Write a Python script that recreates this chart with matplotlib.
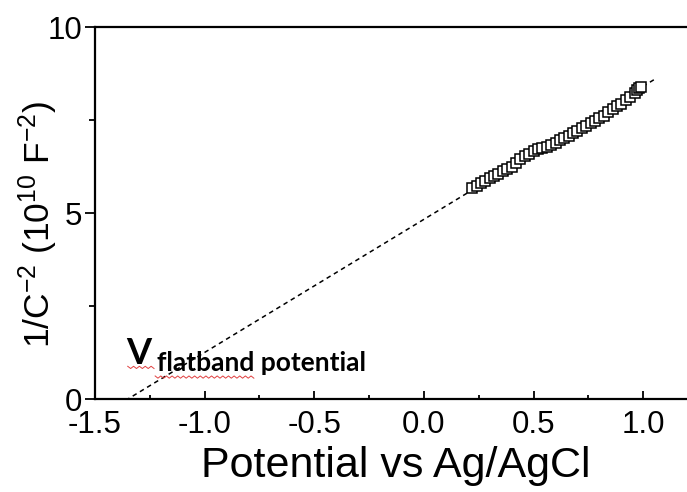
import numpy as np
import matplotlib
matplotlib.use('Agg')
import matplotlib.pyplot as plt

# Mott-Schottky data
potential = [0.22, 0.24, 0.26, 0.28, 0.30, 0.32, 0.34, 0.36, 0.38, 0.40,
             0.42, 0.44, 0.46, 0.48, 0.50, 0.52, 0.54, 0.56, 0.58, 0.60,
             0.62, 0.64, 0.66, 0.68, 0.70, 0.72, 0.74, 0.76, 0.78, 0.80,
             0.82, 0.84, 0.86, 0.88, 0.90, 0.92, 0.94, 0.96, 0.97, 0.98, 0.99]
inv_c2 = [5.68, 5.72, 5.80, 5.86, 5.95, 6.00, 6.06, 6.13, 6.18, 6.24,
          6.35, 6.46, 6.52, 6.60, 6.66, 6.72, 6.76, 6.78, 6.83, 6.88,
          6.97, 7.03, 7.08, 7.15, 7.20, 7.28, 7.35, 7.42, 7.48, 7.55,
          7.62, 7.72, 7.80, 7.87, 7.94, 8.04, 8.12, 8.24, 8.30, 8.36, 8.40]

# linear fit extrapolated to the flatband potential
fit_slope = 3.58
fit_intercept = 4.83
fit_range = [-1.36, 1.06]

plt.rcParams['font.family'] = ['Liberation Sans', 'DejaVu Sans']
plt.rcParams['mathtext.fontset'] = 'custom'
plt.rcParams['mathtext.rm'] = 'Liberation Sans'
plt.rcParams['mathtext.it'] = 'Liberation Sans'

fig = plt.figure(figsize=(6.87, 4.92), dpi=100)
ax = fig.add_axes([0.138, 0.189, 0.875, 0.756])

fx = np.array(fit_range)
ax.plot(fx, fit_slope * fx + fit_intercept, ls=(0, (3, 2.5)), color='black', lw=1.1)
ax.plot(potential, inv_c2, ls='none', marker='s', ms=7, mfc='white',
        mec='black', mew=1.1)

ax.set_xlim(-1.5, 1.24)
ax.set_ylim(0, 10)
ax.set_xticks([-1.5, -1.0, -0.5, 0.0, 0.5, 1.0])
ax.set_xticklabels(['-1.5', '-1.0', '-0.5', '0.0', '0.5', '1.0'])
ax.set_xticks([-1.25, -0.75, -0.25, 0.25, 0.75], minor=True)
ax.set_yticks([0, 5, 10])
ax.set_yticks([2.5, 7.5], minor=True)

for s in ax.spines.values():
    s.set_linewidth(1.6)
ax.spines['right'].set_visible(False)

ax.tick_params(axis='x', which='major', direction='in', length=6, width=1.3,
               labelsize=22.5, pad=8)
ax.tick_params(axis='x', which='minor', direction='in', length=3, width=1.3)
ax.tick_params(axis='y', which='major', direction='out', length=7, width=1.3,
               labelsize=22.5, pad=2)
ax.tick_params(axis='y', which='minor', direction='out', length=4, width=1.3)

ax.set_xlabel('Potential vs Ag/AgCl', fontsize=31, labelpad=4)
ax.set_ylabel(r'1/C$^{-2}$ (10$^{10}$ F$^{-2}$)', fontsize=25.5)
ax.yaxis.set_label_coords(-0.058, 0.47)

ax.text(-1.355, 0.95, 'V', fontsize=26, fontweight='bold', family='Lato',
        va='baseline', ha='left')
ax.text(-1.215, 0.74, 'flatband potential', fontsize=19, fontweight='bold',
        family='Lato', va='baseline', ha='left')

# red spell-check underlines as in the source screenshot
for x0, x1, yb, n in [(-1.35, -1.23, 0.88, 10), (-1.225, -0.775, 0.62, 36)]:
    wx = np.linspace(x0, x1, n)
    wy = yb - 0.06 * (np.arange(n) % 2)
    ax.plot(wx, wy, color='#e04040', lw=0.7)

fig.savefig('out.png', dpi=100)
